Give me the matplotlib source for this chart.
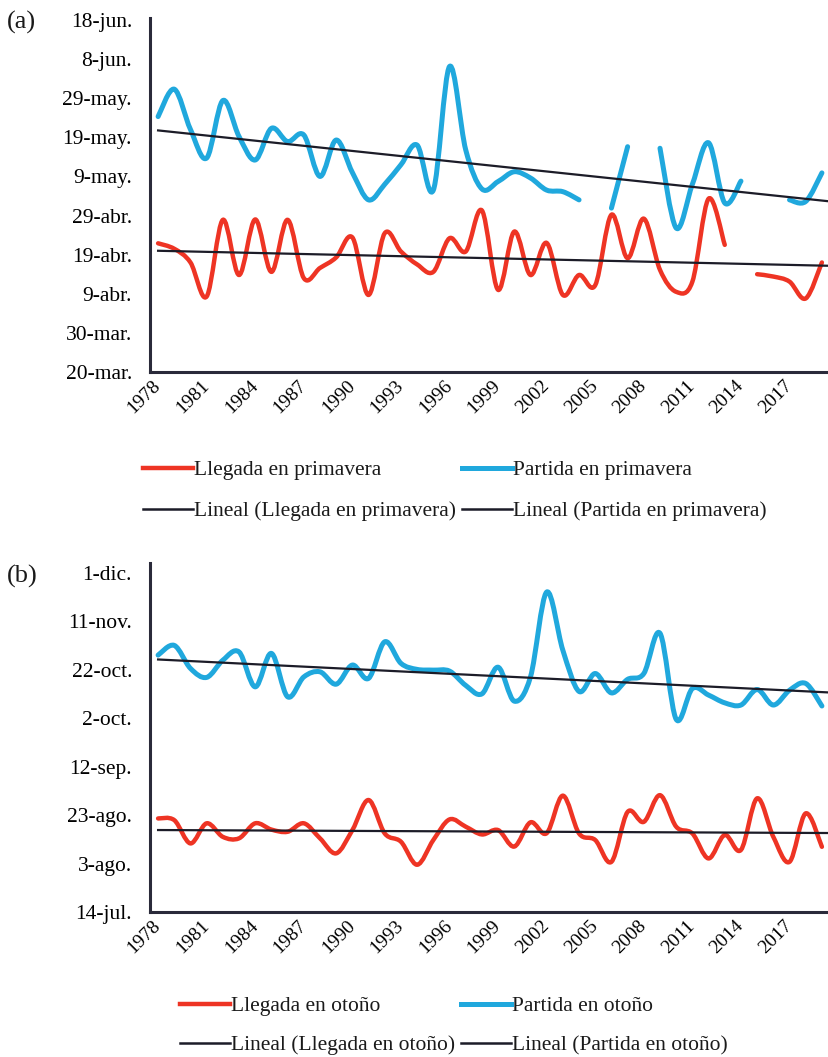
import numpy as np
import matplotlib.pyplot as plt
from matplotlib.path import Path
from matplotlib.patches import PathPatch
from matplotlib.lines import Line2D

plt.rcParams["font.family"] = ["Liberation Serif", "DejaVu Serif"]
plt.rcParams["text.color"] = "#1a1a1a"

nan = np.nan
years = list(range(1978, 2020))

# fechas como día del año (año no bisiesto)
llegada_primavera = [111.9, 110.5, 107.0, 98.3, 117.9, 103.8, 118.0, 104.6, 117.9, 103.0,
                     105.6, 108.3, 113.4, 98.7, 114.5, 109.8, 106.5, 104.6, 113.2, 109.8,
                     120.3, 100.0, 114.9, 103.8, 112.0, 98.7, 103.8, 101.2, 119.2, 108.1,
                     118.2, 105.1, 99.5, 102.1, 123.3, 111.5, nan, 104.0, 103.4, 102.1,
                     97.8, 107.0]
partida_primavera = [144.3, 151.3, 141.0, 133.7, 148.4, 139.2, 133.2, 141.3, 137.9, 139.6,
                     129.0, 138.3, 130.0, 123.0, 127.0, 132.0, 137.0, 125.5, 157.1, 135.8,
                     125.8, 127.7, 130.2, 128.6, 125.5, 125.1, 123.0, nan, 120.9, 136.6,
                     nan, 136.2, 115.8, 127.0, 137.6, 122.2, 127.8, nan, nan, 123.0,
                     122.6, 129.9]
llegada_otono = [233.6, 232.9, 223.3, 231.6, 226.0, 225.4, 231.6, 229.0, 228.1, 231.6,
                 225.4, 219.2, 228.8, 241.2, 227.4, 224.0, 214.5, 224.7, 233.2, 230.2,
                 227.0, 228.8, 222.0, 232.0, 227.5, 243.0, 227.4, 224.7, 215.7, 236.3,
                 232.2, 243.2, 230.2, 227.4, 217.1, 226.8, 220.6, 241.9, 226.0, 215.7,
                 235.7, 221.9]
partida_otono = [301.0, 305.0, 295.5, 291.8, 298.9, 302.3, 287.9, 301.7, 283.8, 292.0,
                 294.1, 289.0, 296.9, 291.4, 306.5, 297.6, 295.1, 294.8, 294.4, 288.5,
                 285.0, 296.0, 282.0, 292.0, 327.0, 303.0, 286.0, 293.4, 285.4, 291.0,
                 293.4, 310.0, 274.5, 287.2, 284.5, 281.3, 280.4, 286.8, 280.4, 286.5,
                 289.3, 280.0]

prim_ticks = [79, 89, 99, 109, 119, 129, 139, 149, 159, 169]
prim_labels = ["20-mar.", "30-mar.", "9-abr.", "19-abr.", "29-abr.",
               "9-may.", "19-may.", "29-may.", "8-jun.", "18-jun."]
oto_ticks = [195, 215, 235, 255, 275, 295, 315, 335]
oto_labels = ["14-jul.", "3-ago.", "23-ago.", "12-sep.", "2-oct.",
              "22-oct.", "11-nov.", "1-dic."]

RED = "#ee3424"
BLUE = "#20a8dd"
TREND = "#1c1c28"
AXIS = "#2a2a3a"
FS = 15.5


def smooth_path(y):
    # curva suavizada (Bezier cúbica por tramos), cortada donde faltan datos
    y = np.asarray(y, float)
    x = np.arange(len(y), dtype=float)
    verts, codes = [], []
    i = 0
    while i < len(y):
        if np.isnan(y[i]):
            i += 1
            continue
        j = i
        while j + 1 < len(y) and not np.isnan(y[j + 1]):
            j += 1
        pts = np.column_stack([x[i:j + 1], y[i:j + 1]])
        n = len(pts)
        if n > 1:
            verts.append(pts[0])
            codes.append(Path.MOVETO)
            for k in range(n - 1):
                pm = pts[k - 1] if k > 0 else pts[k]
                pp = pts[k + 2] if k + 2 < n else pts[k + 1]
                verts += [pts[k] + (pts[k + 1] - pm) / 6,
                          pts[k + 1] - (pp - pts[k]) / 6,
                          pts[k + 1]]
                codes += [Path.CURVE4] * 3
        i = j + 1
    return Path(verts, codes)


def trend(ax, y):
    y = np.asarray(y, float)
    x = np.arange(len(y))
    ok = ~np.isnan(y)
    m, b = np.polyfit(x[ok], y[ok], 1)
    x1 = len(y) - 0.6
    ax.plot([0, x1], [b, m * x1 + b], color=TREND, lw=1.6, zorder=4)


def panel(ax, arrive, leave, ticks, labels, ylim):
    ax.add_patch(PathPatch(smooth_path(arrive), fill=False, edgecolor=RED, lw=3.2,
                           capstyle="round", joinstyle="round", zorder=3))
    ax.add_patch(PathPatch(smooth_path(leave), fill=False, edgecolor=BLUE, lw=3.6,
                           capstyle="round", joinstyle="round", zorder=3))
    trend(ax, arrive)
    trend(ax, leave)
    ax.set_xlim(-0.5, len(years) - 0.5)
    ax.set_ylim(*ylim)
    ax.set_yticks(ticks)
    ax.set_yticklabels(labels, fontsize=FS)
    ax.set_xticks(range(0, len(years), 3))
    ax.set_xticklabels([str(v) for v in years[::3]], fontsize=14,
                       rotation=45, ha="right", rotation_mode="anchor", va="center")
    ax.tick_params(axis="y", length=0, pad=13)
    ax.tick_params(axis="x", length=0, pad=8)
    for s in ["top", "right"]:
        ax.spines[s].set_visible(False)
    for s in ["left", "bottom"]:
        ax.spines[s].set_color(AXIS)
        ax.spines[s].set_linewidth(2.2)


def leyenda(fig, x0, y0, season, spacing):
    handles = [Line2D([], [], color=RED, lw=3.2),
               Line2D([], [], color=TREND, lw=1.8),
               Line2D([], [], color=BLUE, lw=3.6),
               Line2D([], [], color=TREND, lw=1.8)]
    names = [f"Llegada en {season}", f"Lineal (Llegada en {season})",
             f"Partida en {season}", f"Lineal (Partida en {season})"]
    fig.legend(handles, names, loc="upper left", bbox_to_anchor=(x0 / 829, 1 - y0 / 1057),
               bbox_transform=fig.transFigure, ncol=2, frameon=False, fontsize=FS,
               borderpad=0, borderaxespad=0, handlelength=2.3, handletextpad=0.05,
               columnspacing=0.3, labelspacing=spacing)


fig = plt.figure(figsize=(8.29, 10.57), dpi=100)
ax_a = fig.add_axes([150 / 829, 1 - 372 / 1057, 680 / 829, 354 / 1057])
ax_b = fig.add_axes([150 / 829, 1 - 912 / 1057, 680 / 829, 349 / 1057])

panel(ax_a, llegada_primavera, partida_primavera, prim_ticks, prim_labels, (79, 169.5))
panel(ax_b, llegada_otono, partida_otono, oto_ticks, oto_labels, (195, 339))

leyenda(fig, 143, 460, "primavera", 0.98)
leyenda(fig, 180, 996, "otoño", 0.88)

fig.text(7 / 829, 1 - 22 / 1057, "(a)", fontsize=19, va="center", ha="left")
fig.text(7 / 829, 1 - 576 / 1057, "(b)", fontsize=19, va="center", ha="left")

fig.savefig("out.png", dpi=100)
